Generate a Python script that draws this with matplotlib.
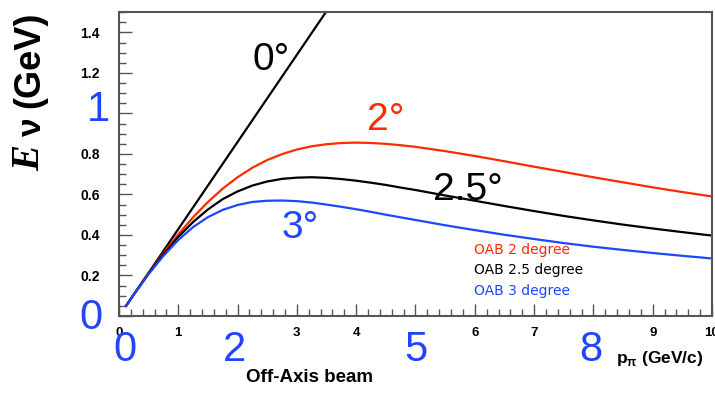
import matplotlib.pyplot as plt
from matplotlib.ticker import MultipleLocator

# pion momentum (GeV/c) and neutrino energy (GeV) for each off-axis angle
p_pi = [0.12, 0.25, 0.5, 0.75, 1.0, 1.25, 1.5, 1.75, 2.0, 2.25, 2.5, 2.75, 3.0, 3.25, 3.5, 3.75,
        4.0, 4.25, 4.5, 4.75, 5.0, 5.5, 6.0, 6.5, 7.0, 7.5, 8.0, 8.5, 9.0, 9.5, 10.0]
e_2deg = [0.05, 0.107, 0.211, 0.31, 0.403, 0.487, 0.563, 0.629, 0.685, 0.732, 0.77, 0.799, 0.822, 0.838,
          0.848, 0.854, 0.856, 0.854, 0.85, 0.843, 0.835, 0.814, 0.79, 0.764, 0.737, 0.711, 0.685,
          0.66, 0.635, 0.612, 0.59]
e_25deg = [0.05, 0.106, 0.209, 0.304, 0.39, 0.464, 0.526, 0.577, 0.615, 0.644, 0.664, 0.677, 0.683, 0.685,
           0.682, 0.676, 0.668, 0.658, 0.647, 0.634, 0.622, 0.595, 0.569, 0.543, 0.518, 0.494, 0.472,
           0.451, 0.432, 0.414, 0.397]
e_3deg = [0.05, 0.106, 0.207, 0.297, 0.375, 0.439, 0.488, 0.524, 0.548, 0.563, 0.569, 0.57, 0.567, 0.56,
          0.55, 0.539, 0.527, 0.514, 0.50, 0.487, 0.474, 0.448, 0.424, 0.401, 0.38, 0.36, 0.342,
          0.326, 0.311, 0.297, 0.284]
# on-axis line
p_0deg = [0.12, 3.6]
e_0deg = [0.05, 1.548]

RED = "#ff2a00"
BLUE = "#1f45ff"
FRAME = "#555555"
SANS = "Liberation Sans"

fig = plt.figure(figsize=(7.15, 3.93), dpi=100)
ax = fig.add_axes([0.1664, 0.196, 0.8294, 0.773])

ax.plot(p_0deg, e_0deg, color="black", lw=1.6)
ax.plot(p_pi, e_2deg, color=RED, lw=1.6)
ax.plot(p_pi, e_25deg, color="black", lw=1.6)
ax.plot(p_pi, e_3deg, color=BLUE, lw=1.6)

ax.set_xlim(0, 10)
ax.set_ylim(0, 1.5)
ax.xaxis.set_major_locator(MultipleLocator(1))
ax.xaxis.set_minor_locator(MultipleLocator(0.2))
ax.yaxis.set_major_locator(MultipleLocator(0.2))
ax.yaxis.set_minor_locator(MultipleLocator(0.05))
ax.tick_params(which="both", direction="in", top=False, right=False, color=FRAME)
ax.tick_params(which="major", length=9, width=1)
ax.tick_params(which="minor", length=5, width=1)
ax.tick_params(axis="y", which="major", pad=14)
ax.tick_params(axis="x", which="major", pad=8)
for s in ax.spines.values():
    s.set_color(FRAME)
    s.set_linewidth(1.5)

xlabels = ["0", "1", "", "3", "4", "", "6", "7", "", "9", "10"]
ax.set_xticks(range(11))
ax.set_xticklabels(xlabels, fontsize=9.5, fontweight="bold", family=SANS)
ylabels = ["", "0.2", "0.4", "0.6", "0.8", "", "1.2", "1.4"]
ax.set_yticks([0, 0.2, 0.4, 0.6, 0.8, 1.0, 1.2, 1.4])
ax.set_yticklabels(ylabels, fontsize=10, fontweight="bold", family=SANS)


def px(x, y):
    return x / 715, 1 - y / 393


# large hand-placed numbers
big = dict(color=BLUE, fontsize=30, family=SANS, ha="center", va="center")
fig.text(*px(91, 318), "0", **big)
fig.text(*px(98, 110), "1", **big)
fig.text(*px(125, 350), "0", **big)
fig.text(*px(235, 350), "2", **big)
fig.text(*px(416, 350), "5", **big)
fig.text(*px(591, 350), "8", **big)

# angle annotations
ann = dict(fontsize=28, family=SANS, ha="center", va="center")
fig.text(*px(271, 60), "0°", color="black", **ann)
fig.text(*px(386, 120), "2°", color=RED, **ann)
fig.text(*px(468, 190), "2.5°", color="black", **ann)
fig.text(*px(300, 228), "3°", color=BLUE, **ann)

# legend entries
leg = dict(fontsize=10, family="DejaVu Sans", ha="left", va="center")
fig.text(*px(474, 250), "OAB 2 degree", color=RED, **leg)
fig.text(*px(474, 270), "OAB 2.5 degree", color="black", **leg)
fig.text(*px(474, 291), "OAB 3 degree", color=BLUE, **leg)

# axis titles
fig.text(*px(310, 378), "Off-Axis beam", fontsize=13.5, fontweight="bold",
         family=SANS, ha="center", va="center")
fig.text(*px(660, 358), r"p$_{\mathregular{π}}$ (GeV/c)", fontsize=12.5, fontweight="bold",
         family=SANS, ha="center", va="center")
fig.text(*px(30, 158), "E", rotation=90, fontsize=28, fontweight="bold",
         style="italic", family="Liberation Serif", ha="center", va="center")
fig.text(*px(32, 127), "ν", rotation=90, fontsize=24, fontweight="bold",
         family=SANS, ha="center", va="center")
fig.text(*px(30, 60), "(GeV)", rotation=90, fontsize=26, fontweight="bold",
         family=SANS, ha="center", va="center")

fig.savefig("out.png", dpi=100)
